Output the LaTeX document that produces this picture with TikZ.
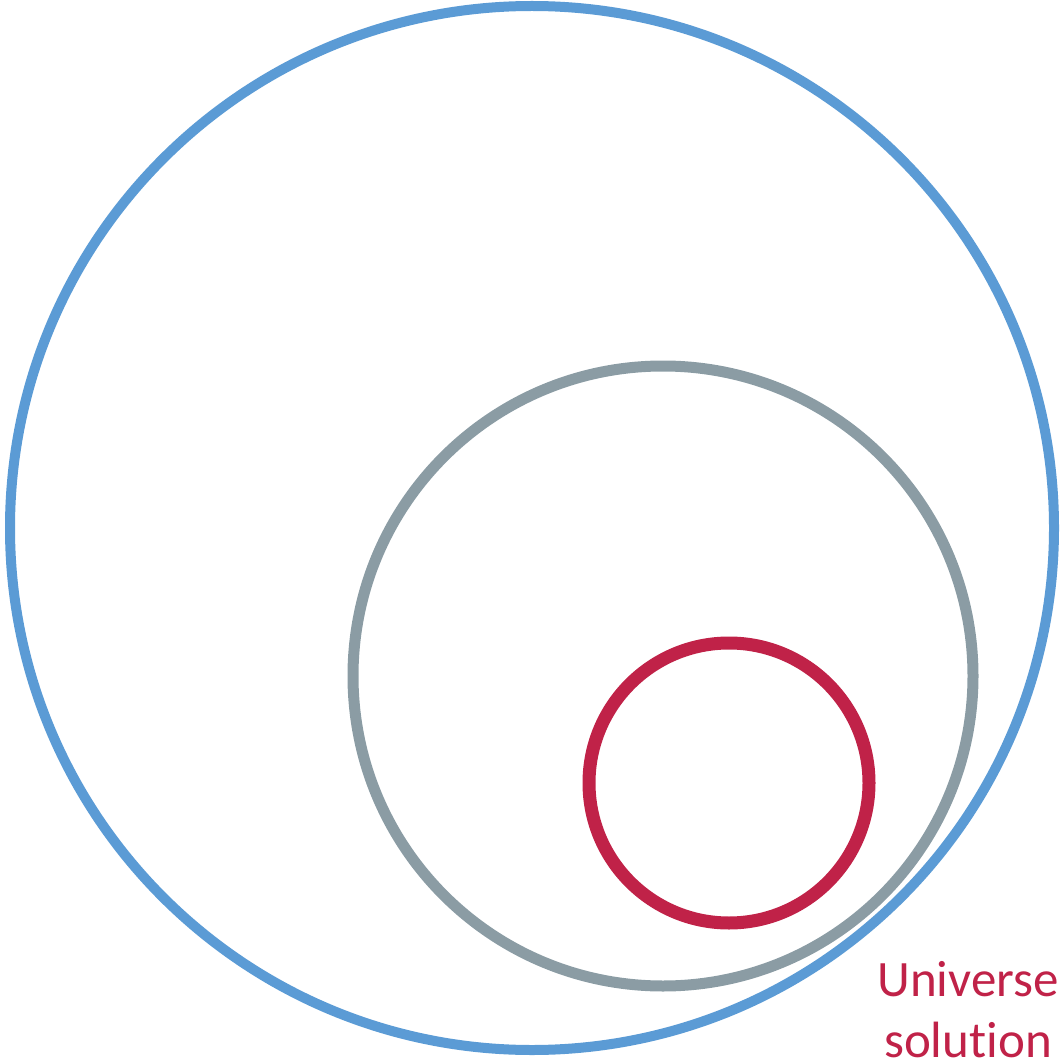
\documentclass[tikz,border=0pt]{standalone}
\usepackage{fontspec}
\setmainfont[Ligatures=NoCommon]{Carlito}
\definecolor{setblue}{RGB}{91,155,213}
\definecolor{setgray}{RGB}{139,156,164}
\definecolor{setred}{RGB}{192,34,72}
\begin{document}
\begin{tikzpicture}[x=1pt, y=-1pt, ring/.style={line width=#1}]
  \useasboundingbox (0,0) rectangle (1063,1059);
  \coordinate (A) at (532,528); \coordinate (B) at (663,676);
  \coordinate (C) at (729,783);
  \draw[setblue, ring=10] (A) circle[radius=522pt];
  \draw[setgray, ring=11] (B) circle[radius=310pt];
  \draw[setred, ring=13] (C) circle[radius=140pt];
  \node[setred, font=\fontsize{51}{61}\selectfont, align=center, anchor=base]
    (lbl) at (968,1057) {Universe\\solution};
\end{tikzpicture}
\end{document}
